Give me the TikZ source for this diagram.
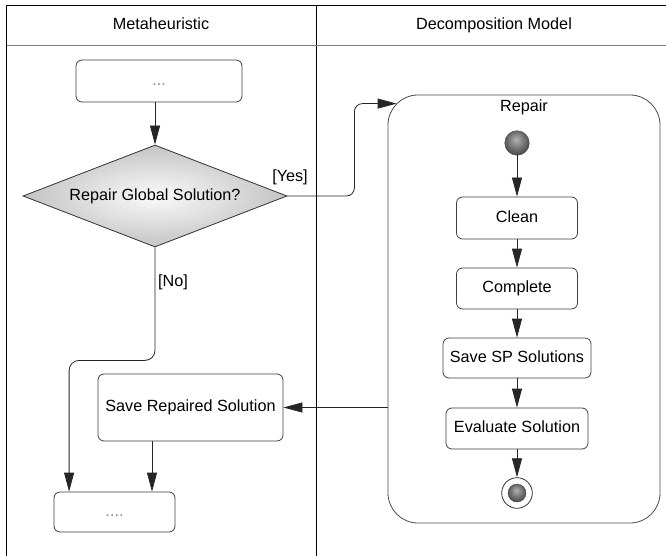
\documentclass[tikz,border=0pt]{standalone}
\usepackage{fontspec}
\setmainfont{Liberation Sans}
\usetikzlibrary{arrows.meta,shapes.geometric,calc}
\pgfdeclareradialshading{diashade}{\pgfpoint{0bp}{0bp}}{color(0bp)=(black!2); color(12bp)=(black!12); color(44bp)=(black!40); color(50bp)=(black!45)}
\pgfdeclareradialshading{ballshade}{\pgfpoint{-2bp}{8bp}}{color(0bp)=(black!30); color(30bp)=(black!75); color(50bp)=(black!92)}
\begin{document}
\begin{tikzpicture}[x=1pt,y=-1pt,
  font=\fontsize{16.2}{19}\selectfont,
  act/.style={draw=black!75, line width=0.8pt, rounded corners=6pt, inner sep=0pt, text height=11.5pt, text depth=3pt, fill=white},
  flow/.style={draw=black!85, line width=0.8pt, -{Triangle[length=19pt,width=10pt]}},
  lane/.style={draw=black, line width=0.9pt},
  lbl/.style={inner sep=0pt, text height=11.5pt, text depth=3pt},
  ball/.style={circle, shade, shading=ballshade, draw=black!70, line width=0.4pt, inner sep=0pt}]
\useasboundingbox (0,0) rectangle (666,556);
\clip (0,0) rectangle (666,556);
\fill[white] (0,0) rectangle (666,556);
% swimlanes
\draw[lane] (6.5,600) -- (6.5,5.5) -- (700,5.5);
\draw[lane] (316,5.5) -- (316,600);
\draw[draw=black!50, line width=1.8pt] (6.5,45.5) -- (700,45.5);
\node[lbl] (h1) at (161,25) {Metaheuristic};
\node[lbl] (h2) at (494,25) {Decomposition Model};
% repair composite state
\node[draw=black!70, line width=0.8pt, rounded corners=30pt, minimum width=272pt, minimum height=428pt, inner sep=0pt] (repair) at (524,309) {};
\node[lbl] (repairtitle) at (524,107) {Repair};
% metaheuristic lane
\node[act, minimum width=166pt, minimum height=42pt] (top) at (159,81) {\textcolor{black!45}{...}};
\node[diamond, draw=black!80, line width=0.8pt, shade, shading=diashade, aspect=2.59, minimum width=264pt, minimum height=102pt, inner sep=0pt] (dia) at (155,196) {Repair Global Solution?};
\node[lbl] (yes) at (290,177) {[Yes]};
\node[lbl] (no) at (173,282) {[No]};
\node[act, minimum width=185pt, minimum height=67pt] (save) at (190.5,407.5) {Save Repaired Solution};
\node[act, minimum width=121pt, minimum height=40pt] (end1) at (114.5,512) {\textcolor{black!45}{....}};
% decomposition lane
\node[ball, minimum size=24.6pt] (init) at (517,143) {};
\node[act, minimum width=121pt, minimum height=42pt] (clean) at (517,218) {Clean};
\node[act, minimum width=121pt, minimum height=41pt] (complete) at (517,288.5) {Complete};
\node[act, minimum width=148pt, minimum height=40pt] (savesp) at (517,358) {Save SP Solutions};
\node[act, minimum width=142pt, minimum height=41pt] (eval) at (517,428.5) {Evaluate Solution};
\node[circle, draw=black!80, line width=0.8pt, minimum size=30.6pt, inner sep=0pt, fill=white] (fin) at (517,493) {};
\node[ball, minimum size=18pt] (finin) at (fin.center) {};
% connectors
\draw[flow] (top.south -| dia.north) -- (dia.north);
\draw[flow, rounded corners=8pt] (dia.east) -- ++(67,0) |- ([shift={(9,9)}]repair.north west);
\draw[flow, rounded corners=10pt] (dia.south) -- ++(0,113) -| ([xshift=15.5pt]end1.north west);
\draw[flow] (save.east -| repair.west) -- (save.east);
\draw[flow] ([xshift=-38.5pt]save.south) -- ([xshift=-38.5pt]save.south |- end1.north);
\draw[flow] (init) -- (clean);
\draw[flow] (clean) -- (complete);
\draw[flow] (complete) -- (savesp);
\draw[flow] (savesp) -- (eval);
\draw[flow] (eval) -- (fin);
\end{tikzpicture}
\end{document}
